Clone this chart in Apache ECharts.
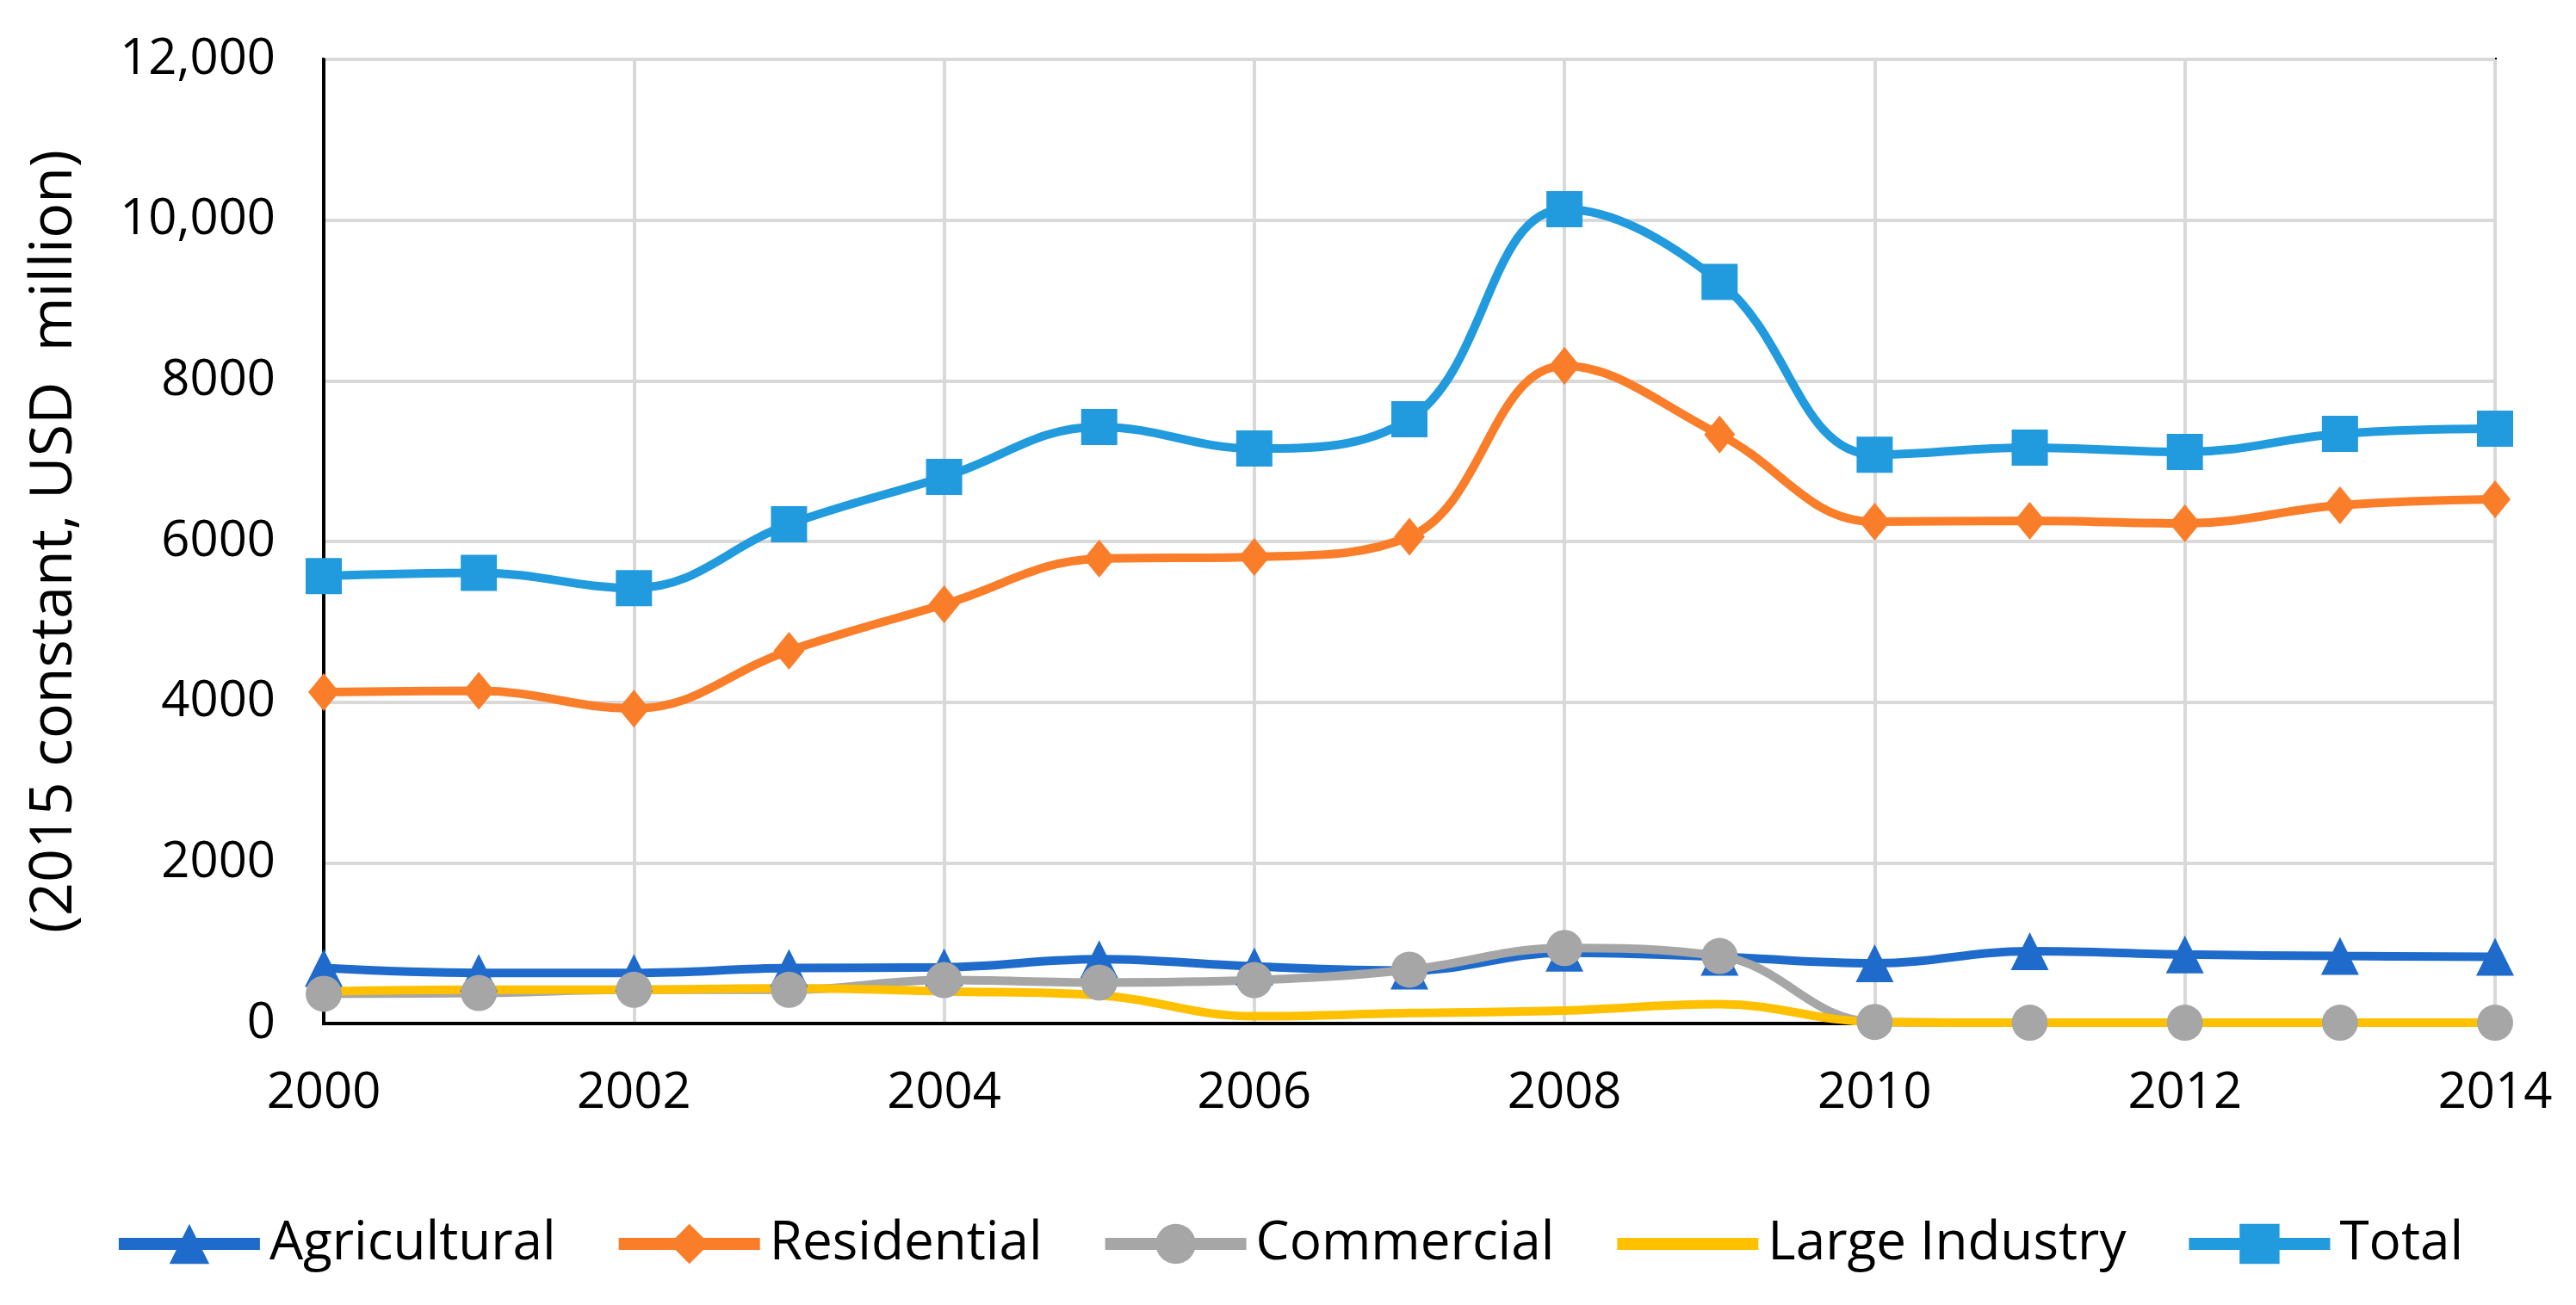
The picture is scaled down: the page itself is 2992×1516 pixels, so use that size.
<!DOCTYPE html>
<html>
<head>
<meta charset="utf-8">
<script src="https://cdn.jsdelivr.net/npm/echarts@6/dist/echarts.min.js"></script>
<style>
html,body{margin:0;padding:0;background:#fff;}
#chart{width:2992px;height:1516px;}
</style>
</head>
<body>
<div id="chart"></div>
<script>
const years = [2000,2001,2002,2003,2004,2005,2006,2007,2008,2009,2010,2011,2012,2013,2014];
const agricultural = [690,630,630,690,700,800,710,660,880,830,750,900,860,840,830];
const residential = [4125,4140,3920,4640,5218,5785,5807,6059,8185,7330,6246,6257,6225,6450,6525];
const commercial = [370,380,420,420,540,510,540,670,940,840,20,10,10,10,10];
const largeIndustry = [400,420,420,440,400,350,90,130,160,240,20,10,10,10,10];
const total = [5570,5610,5420,6214,6803,7425,7157,7521,10136,9230,7080,7168,7114,7339,7403];
const seriesNames = ['Agricultural','Residential','Commercial','Large Industry','Total'];
const yTicks = [0,2000,4000,6000,8000,10000,12000];

const FONT = 'Open Sans';
const pairs = arr => years.map((y,i)=>[y,arr[i]]);

function mkSeries(name, data, color, symbol, symbolSize){
  return {
    name, type:'line', smooth:0.4,
    data: pairs(data),
    symbol: symbol, symbolSize: symbolSize,
    showSymbol: symbol !== 'none',
    lineStyle:{color, width:10},
    itemStyle:{color},
    emphasis:{disabled:true},
    animation:false
  };
}

const chart = echarts.init(document.getElementById('chart'));
chart.setOption({
  backgroundColor:'#fff',
  animation:false,
  grid:{left:376, right:94, top:69, bottom:327, show:true, borderColor:'#000', borderWidth:4},
  legend:{
    data: seriesNames.map(n => n === 'Large Industry' ? {name:n, itemStyle:{opacity:0}} : {name:n}),
    bottom: 35,
    left:'center',
    itemWidth:164, itemHeight:58, itemGap:66,
    lineStyle:{width:14},
    textStyle:{fontFamily:FONT, fontSize:62, color:'#000', padding:[0,0,0,6]}
  },
  xAxis:{
    type:'value', min:years[0], max:years[years.length-1], interval:2,
    axisLine:{show:true, lineStyle:{color:'#000', width:4}},
    axisTick:{show:false},
    axisLabel:{fontFamily:FONT, fontSize:58, color:'#000', margin:52, formatter: v => String(v)},
    splitLine:{show:true, lineStyle:{color:'#d9d9d9', width:4}}
  },
  yAxis:{
    type:'value', min:yTicks[0], max:yTicks[yTicks.length-1], interval:2000,
    name:'(2015 constant, USD  million)',
    nameLocation:'middle', nameGap:278,
    nameTextStyle:{fontFamily:FONT, fontSize:68, color:'#000'},
    axisLine:{show:true, lineStyle:{color:'#000', width:4}},
    axisTick:{show:false},
    axisLabel:{fontFamily:FONT, fontSize:58, color:'#000', margin:56,
      formatter: v => v >= 10000 ? v.toLocaleString('en-US') : String(v)},
    splitLine:{show:true, lineStyle:{color:'#d9d9d9', width:4}}
  },
  series:[
    mkSeries('Agricultural', agricultural, '#1f6bcb', 'triangle', 44),
    mkSeries('Residential', residential, '#fa7d2a', 'diamond', [36,44]),
    mkSeries('Commercial', commercial, '#a6a6a6', 'circle', 42),
    mkSeries('Large Industry', largeIndustry, '#ffc000', 'none', 0),
    mkSeries('Total', total, '#219bdd', 'rect', 42)
  ]
});
</script>
</body>
</html>
